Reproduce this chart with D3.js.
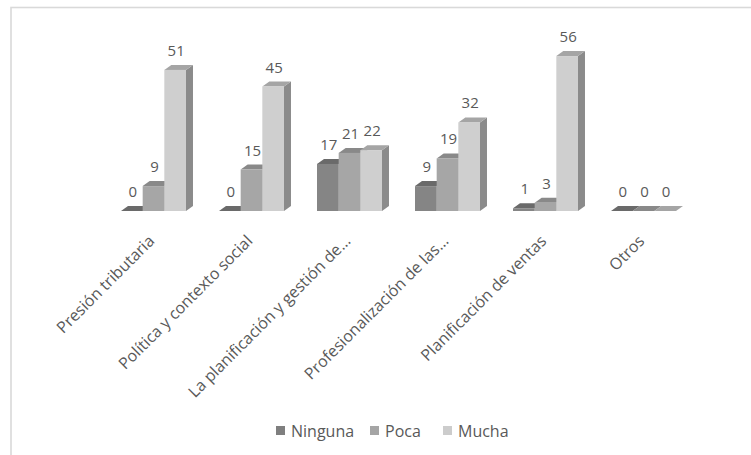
<!DOCTYPE html>
<html>
<head>
<meta charset="utf-8">
<script src="https://cdn.jsdelivr.net/npm/d3@7/dist/d3.min.js"></script>
<style>
  html, body { margin: 0; padding: 0; background: #ffffff; }
  svg { display: block; }
  text { font-family: "Open Sans", "DejaVu Sans", sans-serif; fill: #595959; }
</style>
</head>
<body>
<svg id="chart" width="751" height="455"></svg>
<script>
// Factors and how much influence each was rated as having
const categories = [
  "Presión tributaria",
  "Política y contexto social",
  "La planificación y gestión de…",
  "Profesionalización de las…",
  "Planificación de ventas",
  "Otros"
];
const seriesNames = ["Ninguna", "Poca", "Mucha"];
const ninguna = [0, 0, 17, 9, 1, 0];
const poca    = [9, 15, 21, 19, 3, 0];
const mucha   = [51, 45, 22, 32, 56, 0];
const yTicks  = [0, 10, 20, 30, 40, 50, 60];

// Face shades for each series: front, top, side
const shades = {
  Ninguna: { front: "#858585", top: "#6a6a6a", side: "#6f6f6f", key: "#7f7f7f" },
  Poca:    { front: "#a6a6a6", top: "#898989", side: "#8a8a8a", key: "#a5a5a5" },
  Mucha:   { front: "#cfcfcf", top: "#a5a5a5", side: "#8b8b8b", key: "#cccccc" }
};

const seriesValues = { Ninguna: ninguna, Poca: poca, Mucha: mucha };

const svg = d3.select("#chart");
const W = 751, H = 455;

// Chart area frame
svg.append("rect")
  .attr("x", 11).attr("y", 7.5)
  .attr("width", W).attr("height", H)
  .attr("fill", "none")
  .attr("stroke", "#d9d9d9")
  .attr("stroke-width", 1.6);

const plot = { left: 104.5, right: 692.5, base: 211, top: 45 };
const depth = { dx: 7, dy: 5 };

const x0 = d3.scaleBand()
  .domain(categories)
  .range([plot.left, plot.right])
  .paddingInner(0.337)
  .paddingOuter(0.337 / 2);

const x1 = d3.scaleBand()
  .domain(seriesNames)
  .range([0, x0.bandwidth()]);

const y = d3.scaleLinear()
  .domain([yTicks[0], yTicks[yTicks.length - 1]])
  .range([plot.base, plot.top]);

// Flatten into bars, drawn left to right so the 3D faces overlap properly
const bars = [];
categories.forEach((c, i) => {
  seriesNames.forEach(s => {
    bars.push({ cat: c, series: s, value: seriesValues[s][i] });
  });
});

const gBars = svg.append("g");
bars.forEach(b => {
  const xl = x0(b.cat) + x1(b.series);
  const xr = xl + x1.bandwidth();
  const yt = y(b.value);
  const yb = y(0);
  const { dx, dy } = depth;
  const sh = shades[b.series];
  const g = gBars.append("g");
  // side face
  g.append("path")
    .attr("d", `M${xr},${yb} L${xr + dx},${yb - dy} L${xr + dx},${yt - dy} L${xr},${yt} Z`)
    .attr("fill", sh.side);
  // top face
  g.append("path")
    .attr("d", `M${xl},${yt} L${xl + dx},${yt - dy} L${xr + dx},${yt - dy} L${xr},${yt} Z`)
    .attr("fill", sh.top);
  // front face
  if (yb - yt > 0) {
    g.append("rect")
      .attr("x", xl).attr("y", yt)
      .attr("width", xr - xl).attr("height", yb - yt)
      .attr("fill", sh.front);
  }
});

// Value labels
svg.append("g")
  .selectAll("text")
  .data(bars)
  .join("text")
  .attr("x", d => x0(d.cat) + x1(d.series) + x1.bandwidth() / 2 + 1)
  .attr("y", d => y(d.value) - 14)
  .attr("text-anchor", "middle")
  .style("font-size", "15px")
  .text(d => d.value);

// Category labels, rotated
svg.append("g")
  .selectAll("text")
  .data(categories)
  .join("text")
  .attr("transform", d => `translate(${x0(d) + x0.bandwidth() / 2 + 2},242) rotate(-45)`)
  .attr("text-anchor", "end")
  .style("font-size", "16px")
  .text(d => d);

// Legend
const legend = svg.append("g");
const legendX = [276, 370, 443];
seriesNames.forEach((s, i) => {
  const lg = legend.append("g").attr("transform", `translate(${legendX[i]},426)`);
  lg.append("rect").attr("width", 9).attr("height", 9).attr("fill", shades[s].key);
  lg.append("text").attr("x", 15).attr("y", 10.5).style("font-size", "16px").text(s);
});
</script>
</body>
</html>
